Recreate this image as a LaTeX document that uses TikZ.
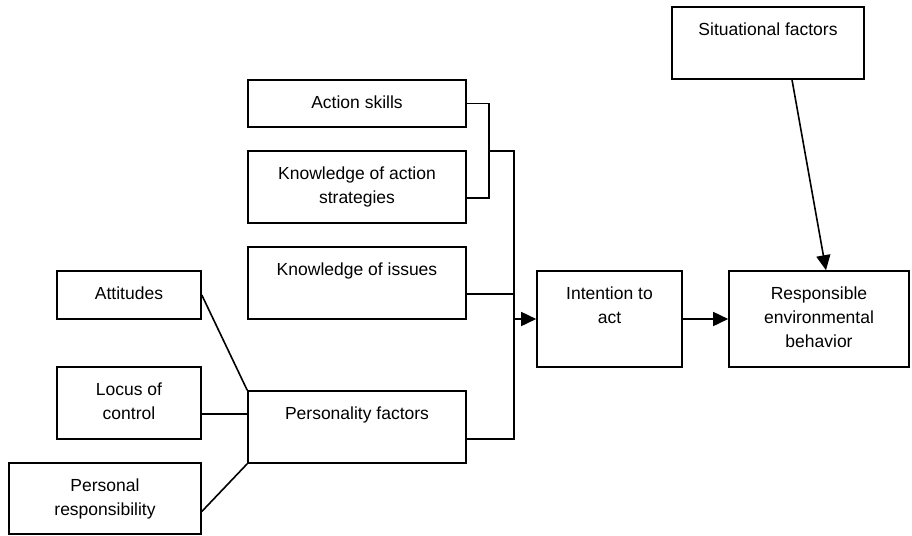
\documentclass[tikz,border=0pt]{standalone}
\usepackage{fontspec}
\setmainfont{Liberation Sans}
\usetikzlibrary{arrows.meta,calc}
\begin{document}
\begin{tikzpicture}[x=1pt,y=-1pt,
  box/.style={draw,line width=1.6pt,inner sep=0pt,align=center,
    font=\fontsize{17.5}{24}\selectfont},
  link/.style={line width=1.6pt},
  arr/.style={line width=1.6pt,-{Triangle[length=15pt,width=14pt]}}]
\useasboundingbox (0,0) rectangle (912,535);

% knowledge and skill variables
\node[box,minimum width=218pt,minimum height=47pt] (as) at (357,103.5) {\strut Action skills};
\node[box,minimum width=218pt,minimum height=72pt] (kas) at (357,187) {\strut Knowledge of action\\\strut strategies};
\node[box,minimum width=218pt,minimum height=72pt] (ki) at (357,283) {\strut Knowledge of issues\\\strut};

% personality variables
\node[box,minimum width=144pt,minimum height=48pt] (at) at (129,295) {\strut Attitudes};
\node[box,minimum width=144pt,minimum height=72pt] (lc) at (129,403) {\strut Locus of\\\strut control};
\node[box,minimum width=192pt,minimum height=71pt] (pr) at (105,498.5) {\strut Personal\\\strut responsibility};
\node[box,minimum width=218pt,minimum height=72pt] (pf) at (357,427) {\strut Personality factors\\\strut};

% intention and behaviour
\node[box,minimum width=145pt,minimum height=96pt] (it) at (609.5,319) {\strut Intention to\\\strut act\\\strut};
\node[box,minimum width=180pt,minimum height=96pt] (rb) at (819,319) {\strut Responsible\\\strut environmental\\\strut behavior};
\node[box,minimum width=192pt,minimum height=72pt] (sf) at (768,43) {\strut Situational factors\\\strut};

% junction points of the bracket connectors
\coordinate (kbr) at (489,198);
\coordinate (b1) at (489,151);
\coordinate (tb) at (514,439);
\coordinate (kj) at (514,294);
\coordinate (ta) at (514,319);

% action skills + strategies bracket
\draw[link] (as.east) -| (kbr) -- (kas.east |- kbr);
% trunk collecting the predictors
\draw[link] (b1) -| (tb) -- (pf.east |- tb);
\draw[link] (ki.east |- kj) -- (kj);
\draw[arr] (ta) -- (it.west);
\draw[arr] (it.east) -- (rb.west);
\draw[arr] ($(sf.south)+(24,0)$) -- ($(rb.north)+(7,0)$);

% personality components
\draw[link] (at.east) -- (pf.north west);
\draw[link] ($(lc.east)+(0,11)$) -- (pf.west |- {$(lc.east)+(0,11)$});
\draw[link] ($(pr.east)+(0,13)$) -- (pf.south west);
\end{tikzpicture}
\end{document}
